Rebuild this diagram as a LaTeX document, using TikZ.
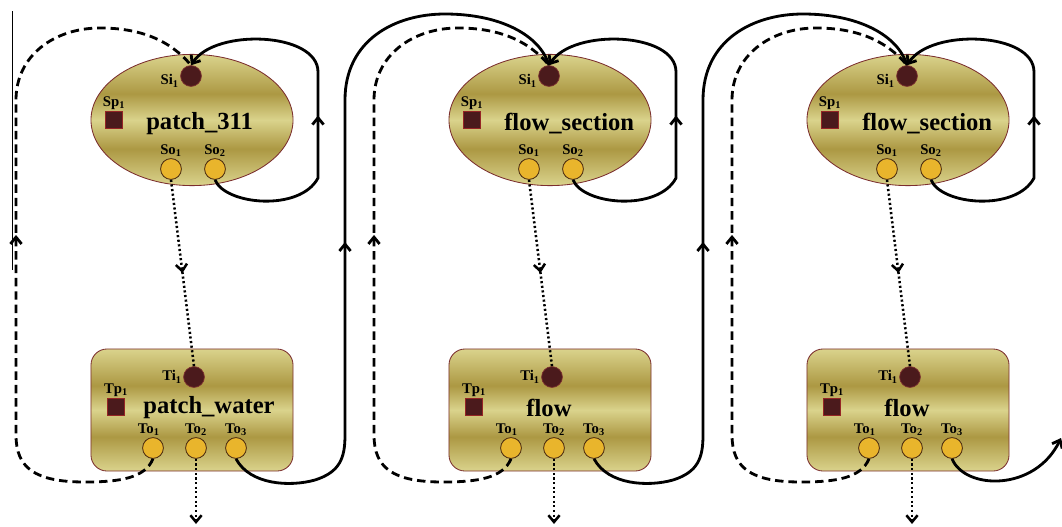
\documentclass[tikz,border=0pt]{standalone}
\usepackage{fontspec}
\setmainfont{Liberation Serif}
\usetikzlibrary{arrows.meta,positioning,shapes,decorations.markings}
\definecolor{goldlt}{HTML}{DAD38C}
\definecolor{golddk}{HTML}{AC9843}
\definecolor{rim}{HTML}{7B2E2E}
\definecolor{port}{HTML}{4B1A1C}
\definecolor{outport}{HTML}{E9B52C}
\definecolor{outrim}{HTML}{4A2A10}
\pgfdeclareverticalshading{goldband}{100bp}{color(0bp)=(goldlt); color(25bp)=(goldlt); color(39bp)=(golddk); color(50bp)=(goldlt); color(60bp)=(golddk); color(75bp)=(goldlt); color(100bp)=(goldlt)}

\begin{document}
\begin{tikzpicture}[x=0.025cm, y=-0.025cm, >={Straight Barb[length=1.7mm,width=2.8mm]},
             comp/.style = {draw=rim, line width=0.6pt, shade, shading=goldband, inner sep=0},
           sblock/.style = {comp, ellipse, minimum width=5.05cm, minimum height=3.28cm},
           tblock/.style = {comp, rectangle, rounded corners=0.4cm, minimum width=5.05cm, minimum height=3.05cm},
           inport/.style = {circle, draw=rim, fill=port, line width=0.5pt, minimum size=0.52cm, inner sep=0},
             outp/.style = {circle, draw=outrim, fill=outport, line width=0.6pt, minimum size=0.52cm, inner sep=0},
            param/.style = {rectangle, draw=rim!80!red, fill=port, line width=0.6pt, minimum size=0.44cm, inner sep=0},
              lbl/.style = {font=\bfseries\fontsize{10.5}{11}\selectfont, inner sep=0.8pt},
         nametext/.style = {font=\bfseries\fontsize{17.5}{20}\selectfont, inner sep=0},
         flowline/.style = {line width=2pt},
         feedback/.style = {line width=2pt, dash pattern=on 6pt off 3.5pt},
         dataline/.style = {line width=1.8pt, dash pattern=on 1.5pt off 1.8pt},
           midtip/.style = {postaction={decorate}, decoration={markings, mark=at position #1 with {\arrow{>}}}},
]
\useasboundingbox (0,0) rectangle (1062,526);
% first pair
\node [sblock]                    (s1)     at (192,120) {};
\node [nametext, anchor=west]     (s1name) at (146,124) {patch\_311};
\node [inport, label={[lbl,yshift=-3.5pt]left:Si\textsubscript{1}}] (s1i) at (191,76) {};
\node [param, label={[lbl]above:Sp\textsubscript{1}}]  (s1p)  at (114,120) {};
\node [outp, label={[lbl]above:So\textsubscript{1}}]   (s1o1) at (171,169) {};
\node [outp, label={[lbl]above:So\textsubscript{2}}]   (s1o2) at (215,169) {};
\node [tblock]                    (t1)     at (192,410) {};
\node [nametext]                  (t1name) at (209,408) {patch\_water};
\node [inport, label={[lbl]left:Ti\textsubscript{1}}]  (t1i)  at (194,377) {};
\node [param, label={[lbl]above:Tp\textsubscript{1}}]  (t1p)  at (116,407) {};
\node [outp, label={[lbl,xshift=-3pt]above:To\textsubscript{1}}] (t1o1) at (153,448) {};
\node [outp, label={[lbl]above:To\textsubscript{2}}]   (t1o2) at (196,448) {};
\node [outp, label={[lbl]above:To\textsubscript{3}}]   (t1o3) at (236,448) {};
\coordinate (out1) at (196,524);
% second pair
\node [sblock]                    (s2)     at (550,120) {};
\node [nametext, anchor=west]     (s2name) at (504,124) {flow\_section};
\node [inport, label={[lbl,yshift=-3.5pt]left:Si\textsubscript{1}}] (s2i) at (549,76) {};
\node [param, label={[lbl]above:Sp\textsubscript{1}}]  (s2p)  at (472,120) {};
\node [outp, label={[lbl]above:So\textsubscript{1}}]   (s2o1) at (529,169) {};
\node [outp, label={[lbl]above:So\textsubscript{2}}]   (s2o2) at (573,169) {};
\node [tblock]                    (t2)     at (550,410) {};
\node [nametext]                  (t2name) at (549,408) {flow};
\node [inport, label={[lbl]left:Ti\textsubscript{1}}]  (t2i)  at (552,377) {};
\node [param, label={[lbl]above:Tp\textsubscript{1}}]  (t2p)  at (474,407) {};
\node [outp, label={[lbl,xshift=-3pt]above:To\textsubscript{1}}] (t2o1) at (511,448) {};
\node [outp, label={[lbl]above:To\textsubscript{2}}]   (t2o2) at (554,448) {};
\node [outp, label={[lbl]above:To\textsubscript{3}}]   (t2o3) at (594,448) {};
\coordinate (out2) at (554,524);
% third pair
\node [sblock]                    (s3)     at (908,120) {};
\node [nametext, anchor=west]     (s3name) at (862,124) {flow\_section};
\node [inport, label={[lbl,yshift=-3.5pt]left:Si\textsubscript{1}}] (s3i) at (907,76) {};
\node [param, label={[lbl]above:Sp\textsubscript{1}}]  (s3p)  at (830,120) {};
\node [outp, label={[lbl]above:So\textsubscript{1}}]   (s3o1) at (887,169) {};
\node [outp, label={[lbl]above:So\textsubscript{2}}]   (s3o2) at (931,169) {};
\node [tblock]                    (t3)     at (908,410) {};
\node [nametext]                  (t3name) at (907,408) {flow};
\node [inport, label={[lbl]left:Ti\textsubscript{1}}]  (t3i)  at (910,377) {};
\node [param, label={[lbl]above:Tp\textsubscript{1}}]  (t3p)  at (832,407) {};
\node [outp, label={[lbl,xshift=-3pt]above:To\textsubscript{1}}] (t3o1) at (869,448) {};
\node [outp, label={[lbl]above:To\textsubscript{2}}]   (t3o2) at (912,448) {};
\node [outp, label={[lbl]above:To\textsubscript{3}}]   (t3o3) at (952,448) {};
\coordinate (out3) at (912,524);
\coordinate (exit) at (1061,438);
\coordinate (edgetop) at (12,11);
\coordinate (edgebot) at (12,270);
%% paths
\draw [line width=0.5pt] (edgetop) -- (edgebot);
\draw [dataline, midtip=0.5] (s1o1.south) -- (t1i.north);
\draw [dataline, midtip=0.5] (s2o1.south) -- (t2i.north);
\draw [dataline, midtip=0.5] (s3o1.south) -- (t3i.north);
\draw [dataline, ->] (t1o2.south) -- (out1);
\draw [dataline, ->] (t2o2.south) -- (out2);
\draw [dataline, ->] (t3o2.south) -- (out3);
\draw [feedback, midtip=9.3cm] (t1o1.south) .. controls (145,478) and (120,482) .. (85,482) .. controls (35,482) and (16,468) .. (16,435) -- (16,100) .. controls (16,55) and (55,28) .. (100,28) .. controls (140,28) and (170,40) .. (s1i.north);
\draw [feedback, midtip=9.3cm] (t2o1.south) .. controls (503,478) and (478,482) .. (443,482) .. controls (393,482) and (374,468) .. (374,435) -- (374,100) .. controls (374,55) and (413,28) .. (458,28) .. controls (498,28) and (528,40) .. (s2i.north);
\draw [feedback, midtip=9.3cm] (t3o1.south) .. controls (861,478) and (836,482) .. (801,482) .. controls (751,482) and (732,468) .. (732,435) -- (732,100) .. controls (732,55) and (771,28) .. (816,28) .. controls (856,28) and (886,40) .. (s3i.north);
\draw [flowline, midtip=8.5cm] (t1o3.south) .. controls (250,485) and (290,487) .. (315,480) .. controls (340,472) and (345,458) .. (345,435) -- (345,100) .. controls (345,40) and (395,14) .. (445,14) .. controls (500,14) and (540,35) .. (s2i.north);
\draw [flowline, midtip=8.5cm] (t2o3.south) .. controls (608,485) and (648,487) .. (673,480) .. controls (698,472) and (703,458) .. (703,435) -- (703,100) .. controls (703,40) and (753,14) .. (803,14) .. controls (858,14) and (898,35) .. (s3i.north);
\draw [flowline, ->] (t3o3.south) .. controls (965,490) and (1035,492) .. (exit);
\draw [flowline, ->, midtip=4.5cm] (s1o2.south) .. controls (225,205) and (300,212) .. (318,178) -- (318,72) .. controls (318,32) and (215,28) .. (s1i.north);
\draw [flowline, ->, midtip=4.5cm] (s2o2.south) .. controls (583,205) and (658,212) .. (676,178) -- (676,72) .. controls (676,32) and (573,28) .. (s2i.north);
\draw [flowline, ->, midtip=4.5cm] (s3o2.south) .. controls (941,205) and (1016,212) .. (1034,178) -- (1034,72) .. controls (1034,32) and (931,28) .. (s3i.north);
\end{tikzpicture}
\end{document}
